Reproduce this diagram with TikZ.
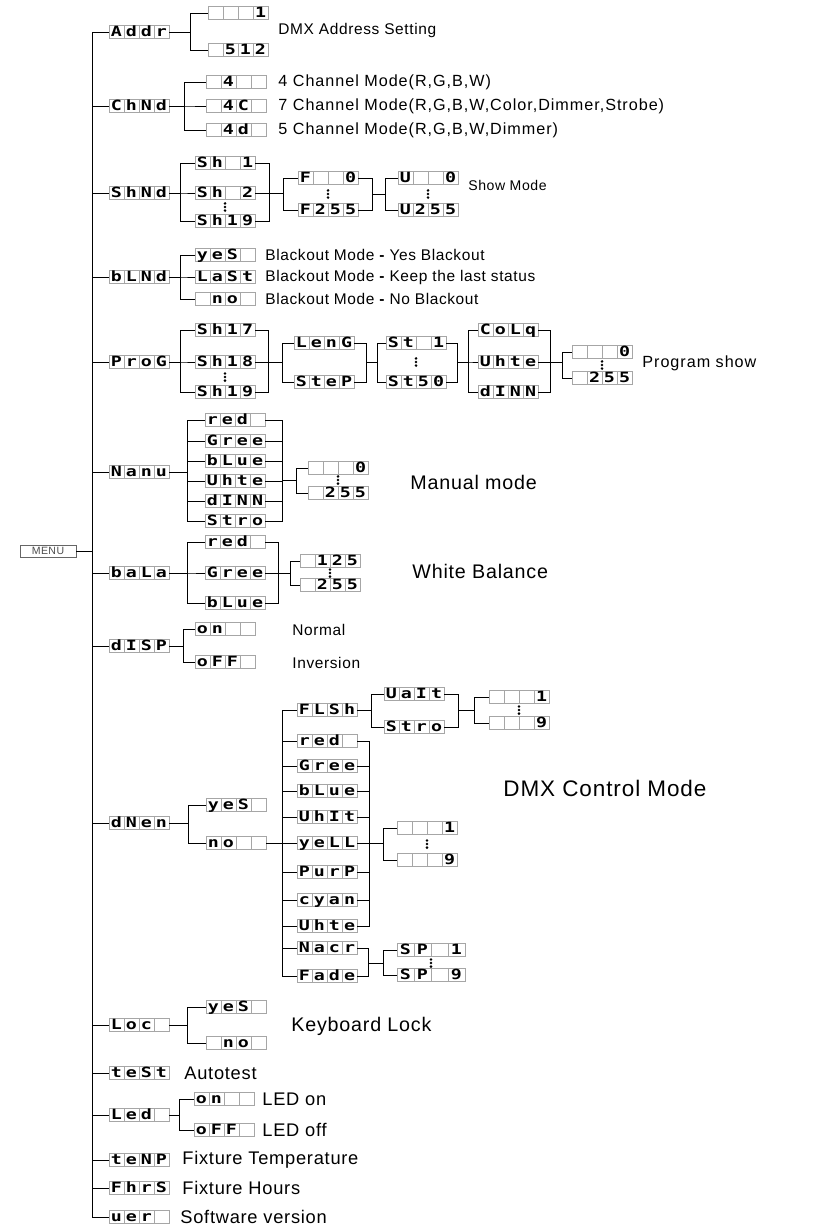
\documentclass[tikz,border=0pt]{standalone}
\usepackage{fontspec}
\setmainfont{Liberation Sans}[LetterSpace=4]
\newfontfamily\lcdfont{DejaVu Sans Mono}[FakeStretch=1.3]
\usepackage{tikz}
\usetikzlibrary{calc}

\newlength\cellw
\setlength\cellw{0.375cm}
\newcommand\lcell[1]{\makebox[\cellw][c]{#1}}
\newcommand\lc[4]{\lcell{#1}\lcell{#2}\lcell{#3}\lcell{#4}}

\tikzset{
  lcd/.style={draw=gray!70, fill=white, line width=0.5pt, inner sep=0pt,
    minimum width=1.5cm, minimum height=0.32cm, text height=0.265cm, text depth=0.02cm,
    font=\lcdfont\bfseries\fontsize{10}{10}\selectfont,
    path picture={\foreach \k in {1,2,3}
      \draw[gray!70, line width=0.4pt]
        ($(path picture bounding box.north west)!\k/4!(path picture bounding box.north east)$) --
        ($(path picture bounding box.south west)!\k/4!(path picture bounding box.south east)$);}},
  lcdwide/.style={lcd, minimum width=1.7cm, execute at begin node={\setlength\cellw{0.425cm}}},
  lbl/.style={anchor=west, inner sep=0pt, font=\fontsize{10.5}{12}\selectfont},
  chl/.style={anchor=west, inner sep=0pt, font=\addfontfeature{LetterSpace=6}\fontsize{11.5}{13}\selectfont},
  midl/.style={anchor=west, inner sep=0pt, font=\fontsize{11}{13}\selectfont},
  bigl/.style={anchor=west, inner sep=0pt, font=\fontsize{14}{16}\selectfont},
  botl/.style={anchor=west, inner sep=0pt, font=\fontsize{13}{15}\selectfont},
  vdots/.pic={\foreach \d in {-3.6,0,3.6} \fill (0,\d) circle (0.035cm);}
}

\begin{document}
\begin{tikzpicture}[x=0.025cm, y=-0.025cm, line width=0.6pt]

    \useasboundingbox (0,0) rectangle (812,1229);

    \node[draw=gray!80!black, line width=0.5pt, inner sep=0pt, minimum width=1.4cm, minimum height=0.3cm,
          text=gray!60!black, font=\fontsize{7.5}{8}\selectfont] (menu) at (48,551) {MENU};

    % main column
    \node[lcd] (addr) at (139,32) {\lc{A}{d}{d}{r}};
    \node[lcd] (chnd) at (139,106) {\lc{C}{h}{N}{d}};
    \node[lcd] (shnd) at (139,193) {\lc{S}{h}{N}{d}};
    \node[lcd] (blnd) at (139,277) {\lc{b}{L}{N}{d}};
    \node[lcd] (prog) at (139,362) {\lc{P}{r}{o}{G}};
    \node[lcd] (nanu) at (139,472) {\lc{N}{a}{n}{u}};
    \node[lcd] (bala) at (139,573) {\lc{b}{a}{L}{a}};
    \node[lcd] (disp) at (139,646) {\lc{d}{I}{S}{P}};
    \node[lcd] (dnen) at (139,823) {\lc{d}{N}{e}{n}};
    \node[lcd] (loc) at (139,1025) {\lc{L}{o}{c}{}};
    \node[lcd] (test) at (139,1073) {\lc{t}{e}{S}{t}};
    \node[lcd] (led) at (139,1115) {\lc{L}{e}{d}{}};
    \node[lcd] (tenp) at (139,1160) {\lc{t}{e}{N}{P}};
    \node[lcd] (fhrs) at (139,1188) {\lc{F}{h}{r}{S}};
    \node[lcd] (uer) at (139,1217) {\lc{u}{e}{r}{}};

    \coordinate (trk) at (92,0);
    \draw (addr.west) -- (addr.west -| trk) -- (uer.west -| trk) -- (uer.west);
    \draw (menu.east) -- (menu.east -| trk);
    \foreach \n in {chnd,shnd,blnd,prog,nanu,bala,disp,dnen,loc,test,led,tenp,fhrs}
        \draw (\n.west) -- (\n.west -| trk);

    % Addr
    \node[lcd] (adr1) at (238,13) {\lc{}{}{}{1}};
    \node[lcd] (adr512) at (238,50) {\lc{}{5}{1}{2}};
    \foreach \n in {adr1,adr512} \draw (addr.east) -- ++(21,0) |- (\n.west);
    \node[lbl, font=\fontsize{11}{13}\selectfont] (t-addr) at (278,31) {DMX Address Setting};

    % ChNd
    \node[lcd] (ch4) at (236,82) {\lc{}{4}{}{}};
    \node[lcd] (ch4c) at (236,106) {\lc{}{4}{C}{}};
    \node[lcd] (ch4d) at (236,130) {\lc{}{4}{d}{}};
    \foreach \n in {ch4,ch4c,ch4d} \draw (chnd.east) -- ++(15,0) |- (\n.west);
    \node[chl] (t-ch4) at (278,82) {4 Channel Mode(R,G,B,W)};
    \node[chl] (t-ch4c) at (278,106) {7 Channel Mode(R,G,B,W,Color,Dimmer,Strobe)};
    \node[chl] (t-ch4d) at (278,130) {5 Channel Mode(R,G,B,W,Dimmer)};

    % ShNd
    \node[lcd] (sh1) at (225,163) {\lc{S}{h}{}{1}};
    \node[lcd] (sh2) at (225,193) {\lc{S}{h}{}{2}};
    \node[lcd] (sh19) at (225,221) {\lc{S}{h}{1}{9}};
    \pic at (225,207) {vdots};
    \foreach \n in {sh1,sh2,sh19} \draw (shnd.east) -- ++(11,0) |- (\n.west);
    \coordinate (shR) at (269,193);
    \foreach \n in {sh1,sh2,sh19} \draw (\n.east) -| (shR);
    \node[lcd] (f0) at (328,178) {\lc{F}{}{}{0}};
    \node[lcd] (f255) at (328,210) {\lc{F}{2}{5}{5}};
    \pic at (328,194) {vdots};
    \foreach \n in {f0,f255} \draw (shR) -- ++(14,0) |- (\n.west);
    \coordinate (fR) at (372,194);
    \foreach \n in {f0,f255} \draw (\n.east) -| (fR);
    \node[lcd] (u0) at (428,178) {\lc{U}{}{}{0}};
    \node[lcd] (u255) at (428,210) {\lc{U}{2}{5}{5}};
    \pic at (428,194) {vdots};
    \foreach \n in {u0,u255} \draw (fR) -- ++(13,0) |- (\n.west);
    \node[lbl, font=\fontsize{10}{12}\selectfont] (t-show) at (468,185) {Show Mode};

    % bLNd
    \node[lcd] (byes) at (225,255) {\lc{y}{e}{S}{}};
    \node[lcd] (blast) at (225,277) {\lc{L}{a}{S}{t}};
    \node[lcd] (bno) at (225,299) {\lc{}{n}{o}{}};
    \foreach \n in {byes,blast,bno} \draw (blnd.east) -- ++(11,0) |- (\n.west);
    \node[midl] (t-byes) at (265,255) {Blackout Mode {\bfseries -} Yes Blackout};
    \node[midl] (t-blast) at (265,277) {Blackout Mode {\bfseries -} Keep the last status};
    \node[midl] (t-bno) at (265,299) {Blackout Mode {\bfseries -} No Blackout};

    % ProG
    \node[lcd] (p17) at (225,330) {\lc{S}{h}{1}{7}};
    \node[lcd] (p18) at (225,362) {\lc{S}{h}{1}{8}};
    \node[lcd] (p19) at (225,392) {\lc{S}{h}{1}{9}};
    \pic at (225,377) {vdots};
    \foreach \n in {p17,p18,p19} \draw (prog.east) -- ++(11,0) |- (\n.west);
    \coordinate (pR) at (268,362);
    \foreach \n in {p17,p18,p19} \draw (\n.east) -| (pR);
    \node[lcd] (leng) at (324,343) {\lc{L}{e}{n}{G}};
    \node[lcd] (stp) at (324,382) {\lc{S}{t}{e}{P}};
    \foreach \n in {leng,stp} \draw (pR) -- ++(14,0) |- (\n.west);
    \coordinate (lR) at (366,362);
    \foreach \n in {leng,stp} \draw (\n.east) -| (lR);
    \node[lcd] (st1) at (416,343) {\lc{S}{t}{}{1}};
    \node[lcd] (st50) at (416,382) {\lc{S}{t}{5}{0}};
    \pic at (416,362) {vdots};
    \foreach \n in {st1,st50} \draw (lR) -- ++(11,0) |- (\n.west);
    \coordinate (sR) at (457,362);
    \foreach \n in {st1,st50} \draw (\n.east) -| (sR);
    \node[lcd] (colq) at (508,330) {\lc{C}{o}{L}{q}};
    \node[lcd] (puhte) at (508,362) {\lc{U}{h}{t}{e}};
    \node[lcd] (pdinn) at (508,392) {\lc{d}{I}{N}{N}};
    \foreach \n in {colq,puhte,pdinn} \draw (sR) -- ++(11,0) |- (\n.west);
    \coordinate (cR) at (550,362);
    \foreach \n in {colq,puhte,pdinn} \draw (\n.east) -| (cR);
    \node[lcd] (pv0) at (602,352) {\lc{}{}{}{0}};
    \node[lcd] (pv255) at (602,378) {\lc{}{2}{5}{5}};
    \pic at (602,365) {vdots};
    \foreach \n in {pv0,pv255} \draw (cR) -- ++(12,0) |- (\n.west);
    \node[chl] (t-prog) at (642,363) {Program show};

    % Nanu
    \node[lcd] (nred) at (235,420) {\lc{r}{e}{d}{}};
    \node[lcd] (ngree) at (235,441) {\lc{G}{r}{e}{e}};
    \node[lcd] (nblue) at (235,461) {\lc{b}{L}{u}{e}};
    \node[lcd] (nuhte) at (235,481) {\lc{U}{h}{t}{e}};
    \node[lcd] (ndinn) at (235,501) {\lc{d}{I}{N}{N}};
    \node[lcd] (nstro) at (235,521) {\lc{S}{t}{r}{o}};
    \foreach \n in {nred,ngree,nblue,nuhte,ndinn,nstro} \draw (nanu.east) -- ++(18,0) |- (\n.west);
    \coordinate (nR) at (282,480);
    \foreach \n in {nred,ngree,nblue,nuhte,ndinn,nstro} \draw (\n.east) -| (nR);
    \node[lcd] (nv0) at (338,468) {\lc{}{}{}{0}};
    \node[lcd] (nv255) at (338,493) {\lc{}{2}{5}{5}};
    \pic at (338,480) {vdots};
    \foreach \n in {nv0,nv255} \draw (nR) -- ++(14,0) |- (\n.west);
    \node[bigl] (t-man) at (410,482) {Manual mode};

    % baLa
    \node[lcd] (bred) at (235,542) {\lc{r}{e}{d}{}};
    \node[lcd] (bgree) at (235,573) {\lc{G}{r}{e}{e}};
    \node[lcd] (bblue) at (235,603) {\lc{b}{L}{u}{e}};
    \foreach \n in {bred,bgree,bblue} \draw (bala.east) -- ++(18,0) |- (\n.west);
    \coordinate (bR) at (278,573);
    \foreach \n in {bred,bgree,bblue} \draw (\n.east) -| (bR);
    \node[lcd] (bv125) at (330,561) {\lc{}{1}{2}{5}};
    \node[lcd] (bv255) at (330,585) {\lc{}{2}{5}{5}};
    \pic at (330,573) {vdots};
    \foreach \n in {bv125,bv255} \draw (bR) -- ++(12,0) |- (\n.west);
    \node[bigl] (t-wb) at (412,571) {White Balance};

    % dISP
    \node[lcd] (don) at (225,629) {\lc{o}{n}{}{}};
    \node[lcd] (doff) at (225,662) {\lc{o}{F}{F}{}};
    \foreach \n in {don,doff} \draw (disp.east) -- ++(14,0) |- (\n.west);
    \node[midl] (t-norm) at (292,630) {Normal};
    \node[midl] (t-inv) at (292,663) {Inversion};

    % dNEn
    \node[lcd] (dyes) at (236,805) {\lc{y}{e}{S}{}};
    \node[lcd] (dno) at (236,843) {\lc{n}{o}{}{}};
    \foreach \n in {dyes,dno} \draw (dnen.east) -- ++(19,0) |- (\n.west);
    \node[lcd] (xflsh) at (327,710) {\lc{F}{L}{S}{h}};
    \node[lcd] (xred) at (327,741) {\lc{r}{e}{d}{}};
    \node[lcd] (xgree) at (327,766) {\lc{G}{r}{e}{e}};
    \node[lcd] (xblue) at (327,791) {\lc{b}{L}{u}{e}};
    \node[lcd] (xuhit) at (327,817) {\lc{U}{h}{I}{t}};
    \node[lcd] (xyell) at (327,843) {\lc{y}{e}{L}{L}};
    \node[lcd] (xpurp) at (327,872) {\lc{P}{u}{r}{P}};
    \node[lcd] (xcyan) at (327,900) {\lc{c}{y}{a}{n}};
    \node[lcd] (xuhte) at (327,926) {\lc{U}{h}{t}{e}};
    \node[lcd] (xnacr) at (327,948) {\lc{N}{a}{c}{r}};
    \node[lcd] (xfade) at (327,976) {\lc{F}{a}{d}{e}};
    \foreach \n in {xflsh,xred,xgree,xblue,xuhit,xyell,xpurp,xcyan,xuhte,xnacr,xfade}
        \draw (dno.east) -- ++(16,0) |- (\n.west);

    \node[lcd] (wait) at (414,694) {\lc{U}{a}{I}{t}};
    \node[lcd] (fstro) at (414,727) {\lc{S}{t}{r}{o}};
    \foreach \n in {wait,fstro} \draw (xflsh.east) -- ++(14,0) |- (\n.west);
    \coordinate (wR) at (458,710);
    \foreach \n in {wait,fstro} \draw (\n.east) -| (wR);
    \node[lcd] (fv1) at (519,697) {\lc{}{}{}{1}};
    \node[lcd] (fv9) at (519,723) {\lc{}{}{}{9}};
    \pic at (519,710) {vdots};
    \foreach \n in {fv1,fv9} \draw (wR) -- ++(16,0) |- (\n.west);

    \coordinate (mR) at (369,843);
    \foreach \n in {xred,xgree,xblue,xuhit,xyell,xpurp,xcyan,xuhte} \draw (\n.east) -| (mR);
    \node[lcd] (mv1) at (427,828) {\lc{}{}{}{1}};
    \node[lcd] (mv9) at (427,860) {\lc{}{}{}{9}};
    \pic at (427,844) {vdots};
    \foreach \n in {mv1,mv9} \draw (mR) -- ++(14,0) |- (\n.west);

    \coordinate (zR) at (368,963);
    \foreach \n in {xnacr,xfade} \draw (\n.east) -| (zR);
    \node[lcdwide] (sp1) at (431,950) {\lc{S}{P}{}{1}};
    \node[lcdwide] (sp9) at (431,975) {\lc{S}{P}{}{9}};
    \pic at (431,963) {vdots};
    \foreach \n in {sp1,sp9} \draw (zR) -- ++(15,0) |- (\n.west);

    \node[anchor=west, inner sep=0pt, font=\fontsize{16}{18}\selectfont] (t-dmx) at (503,788) {DMX Control Mode};

    % Loc
    \node[lcd] (lyes) at (236,1007) {\lc{y}{e}{S}{}};
    \node[lcd] (lno) at (236,1043) {\lc{}{n}{o}{}};
    \foreach \n in {lyes,lno} \draw (loc.east) -- ++(18,0) |- (\n.west);
    \node[bigl] (t-lock) at (291,1026) {Keyboard Lock};

    \node[botl] (t-test) at (184,1073) {Autotest};

    % LEd
    \node[lcd] (lon) at (224,1099) {\lc{o}{n}{}{}};
    \node[lcd] (loff) at (224,1130) {\lc{o}{F}{F}{}};
    \foreach \n in {lon,loff} \draw (led.east) -- ++(10,0) |- (\n.west);
    \node[botl] (t-lon) at (262,1099) {LED on};
    \node[botl] (t-loff) at (262,1130) {LED off};

    \node[botl] (t-tenp) at (182,1160) {Fixture Temperature};
    \node[botl] (t-fhrs) at (182,1188) {Fixture Hours};
    \node[botl] (t-uer) at (180,1217) {Software version};

\end{tikzpicture}
\end{document}
